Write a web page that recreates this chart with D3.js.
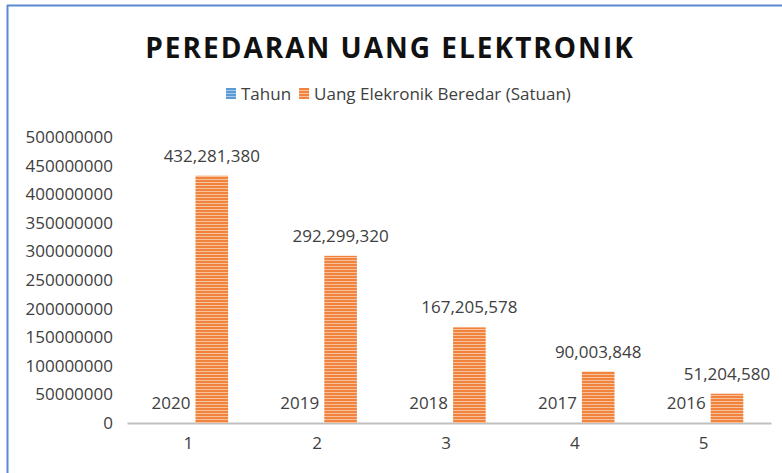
<!DOCTYPE html>
<html>
<head>
<meta charset="utf-8">
<script src="https://cdn.jsdelivr.net/npm/d3@7"></script>
<style>
  body { margin: 0; background: #fff; }
  svg text { font-family: "Open Sans", "Noto Sans", sans-serif; fill: #404040; }
</style>
</head>
<body>
<svg id="chart" width="782" height="473"></svg>
<script>
const categories = ['1', '2', '3', '4', '5'];
const seriesNames = ['Tahun', 'Uang Elekronik Beredar (Satuan)'];
const tahun = [2020, 2019, 2018, 2017, 2016];
const uangBeredar = [432281380, 292299320, 167205578, 90003848, 51204580];
const yTicks = [0, 50000000, 100000000, 150000000, 200000000, 250000000, 300000000, 350000000, 400000000, 450000000, 500000000];

const svg = d3.select('#chart');

// striped fills like the source
const defs = svg.append('defs');
function stripes(id, base, light) {
  const p = defs.append('pattern')
    .attr('id', id)
    .attr('patternUnits', 'userSpaceOnUse')
    .attr('width', 6).attr('height', 3);
  p.append('rect').attr('width', 6).attr('height', 3).attr('fill', base);
  p.append('rect').attr('y', 2).attr('width', 6).attr('height', 1).attr('fill', light);
}
stripes('stripe-orange', '#f0843f', '#f8c19c');
stripes('stripe-blue', '#5b9bd5', '#a9c9ea');
const fills = ['url(#stripe-blue)', 'url(#stripe-orange)'];

// frame
svg.append('line').attr('x1', 7).attr('x2', 782).attr('y1', 5.5).attr('y2', 5.5)
  .attr('stroke', '#5b8ad0').attr('stroke-width', 2);
svg.append('line').attr('x1', 7.5).attr('x2', 7.5).attr('y1', 5).attr('y2', 473)
  .attr('stroke', '#5b8ad0').attr('stroke-width', 2);

// title
svg.append('text')
  .attr('x', 390).attr('y', 58)
  .attr('text-anchor', 'middle')
  .style('font-size', '28px').style('font-weight', 'bold')
  .style('letter-spacing', '2px')
  .style('fill', '#111')
  .text('PEREDARAN UANG ELEKTRONIK');

// legend
const legend = svg.append('g').attr('transform', 'translate(226,94)');
let lx = 0;
seriesNames.forEach((name, i) => {
  const g = legend.append('g').attr('transform', `translate(${lx},0)`);
  g.append('rect').attr('x', 0).attr('y', -6).attr('width', 10).attr('height', 11).attr('fill', fills[i]);
  const t = g.append('text').attr('x', 15).attr('y', 6)
    .style('font-size', '17px').text(name);
  lx += 15 + t.node().getComputedTextLength() + 8;
});

// scales
const x0 = d3.scaleBand().domain(categories).range([127, 771])
  .paddingInner(0.43).paddingOuter(0.215);
const x1 = d3.scaleBand().domain(seriesNames).range([0, x0.bandwidth()])
  .paddingInner(0.2);
const y = d3.scaleLinear().domain([0, 500000000]).range([423, 137]);

// y axis (labels only)
const yAxis = svg.append('g').attr('transform', 'translate(113,0)')
  .call(d3.axisLeft(y).tickValues(yTicks).tickSize(0).tickPadding(0).tickFormat(d3.format('d')));
yAxis.select('.domain').remove();
yAxis.selectAll('text').style('font-size', '17px').attr('fill', '#404040')
  .style('font-family', '"Open Sans", sans-serif');

// x axis
const xAxis = svg.append('g').attr('transform', 'translate(0,423)')
  .call(d3.axisBottom(x0).tickSize(0).tickPadding(14));
xAxis.select('.domain').attr('stroke', '#bfbfbf').attr('stroke-width', 2);
xAxis.selectAll('text').style('font-size', '17px').attr('fill', '#404040')
  .style('font-family', '"Open Sans", sans-serif')
  .attr('transform', 'translate(-3,0)');

// bars
const rows = categories.map((c, i) => ({ cat: c, vals: [tahun[i], uangBeredar[i]] }));
const groups = svg.append('g').selectAll('g').data(rows).join('g')
  .attr('transform', d => `translate(${x0(d.cat)},0)`);

groups.selectAll('rect')
  .data(d => d.vals.map((v, i) => ({ name: seriesNames[i], v, i })))
  .join('rect')
  .attr('x', d => x1(d.name))
  .attr('width', x1.bandwidth())
  .attr('y', d => y(d.v))
  .attr('height', d => y(0) - y(d.v))
  .attr('fill', d => fills[d.i]);

const fmt = d3.format(',');
groups.selectAll('text.lbl')
  .data(d => d.vals.map((v, i) => ({ name: seriesNames[i], v, i })))
  .join('text')
  .attr('class', 'lbl')
  .attr('x', d => x1(d.name) + x1.bandwidth() / 2)
  .attr('y', d => y(d.v) - 14)
  .attr('text-anchor', 'middle')
  .style('font-size', '17px')
  .text(d => d.i === 0 ? d.v : fmt(d.v));
</script>
</body>
</html>
